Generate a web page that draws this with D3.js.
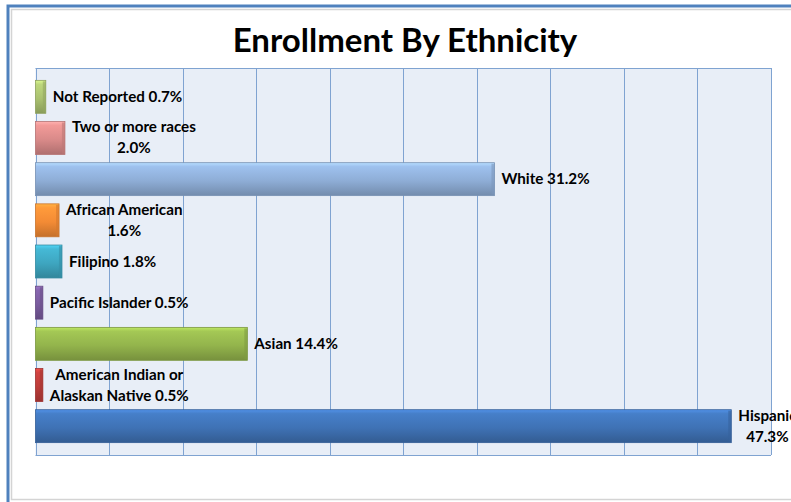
<!DOCTYPE html>
<html>
<head>
<meta charset="utf-8">
<title>Enrollment By Ethnicity</title>
<style>
  body { margin: 0; background: #fff; }
  text { font-family: Lato, "Open Sans", sans-serif; font-weight: bold; fill: #000; }
</style>
</head>
<body>
<svg id="chart" width="791" height="502"></svg>
<script src="https://cdn.jsdelivr.net/npm/d3@7"></script>
<script>
  // categories listed top to bottom as drawn
  var categories = ["Not Reported", "Two or more races", "White", "African American", "Filipino",
                    "Pacific Islander", "Asian", "American Indian or Alaskan Native", "Hispanic"];
  var values = [0.7, 2.0, 31.2, 1.6, 1.8, 0.5, 14.4, 0.5, 47.3];
  var labelLines = [
    ["Not Reported 0.7%"],
    ["Two or more races", "2.0%"],
    ["White 31.2%"],
    ["African American", "1.6%"],
    ["Filipino 1.8%"],
    ["Pacific Islander 0.5%"],
    ["Asian 14.4%"],
    ["American Indian or", "Alaskan Native 0.5%"],
    ["Hispanic", "47.3%"]
  ];
  var barColors = ["#aac16f", "#d98a89", "#8eadd6", "#f38b35", "#3ea6c0",
                   "#7a5c9e", "#93b44c", "#bd3d3a", "#3f72b5"];
  var xTicks = [0, 5, 10, 15, 20, 25, 30, 35, 40, 45, 50];

  var svg = d3.select("#chart");
  var plot = {left: 35.5, right: 771, top: 68, bottom: 455};

  // outer frame
  svg.append("rect").attr("x", 11.5).attr("y", 9.5).attr("width", 790).attr("height", 490)
    .attr("fill", "none").attr("stroke", "#d4d4d4").attr("stroke-width", 1.5);
  svg.append("path").attr("d", "M8,502 V6 H791")
    .attr("fill", "none").attr("stroke", "#4f81bd").attr("stroke-width", 3);

  // title
  svg.append("text").attr("x", 405).attr("y", 52).attr("text-anchor", "middle")
    .style("font-size", "33px").text("Enrollment By Ethnicity");

  var x = d3.scaleLinear().domain([0, 50]).range([plot.left, plot.right]);
  var y = d3.scaleBand().domain(categories).range([plot.top, plot.bottom])
    .paddingInner(0.2).paddingOuter(0.3);

  // plot background
  svg.append("rect").attr("x", plot.left).attr("y", plot.top)
    .attr("width", plot.right - plot.left).attr("height", plot.bottom - plot.top)
    .attr("fill", "#e8eef7");

  // gridlines
  svg.append("g").selectAll("line").data(xTicks).enter().append("line")
    .attr("x1", function(d) { return Math.round(x(d)) + 0.5; })
    .attr("x2", function(d) { return Math.round(x(d)) + 0.5; })
    .attr("y1", plot.top).attr("y2", plot.bottom)
    .attr("stroke", "#7fa3d1").attr("stroke-width", 1);
  svg.append("line").attr("x1", plot.left).attr("x2", plot.right)
    .attr("y1", plot.top + 0.5).attr("y2", plot.top + 0.5).attr("stroke", "#7fa3d1");
  svg.append("line").attr("x1", plot.left).attr("x2", plot.right)
    .attr("y1", plot.bottom + 0.5).attr("y2", plot.bottom + 0.5).attr("stroke", "#7fa3d1");

  // gradients for bevelled bars
  var defs = svg.append("defs");
  barColors.forEach(function(c, i) {
    var g = defs.append("linearGradient").attr("id", "grad" + i)
      .attr("x1", 0).attr("y1", 0).attr("x2", 0).attr("y2", 1);
    g.append("stop").attr("offset", "0%").attr("stop-color", d3.rgb(c).brighter(0.7));
    g.append("stop").attr("offset", "12%").attr("stop-color", d3.rgb(c).brighter(0.3));
    g.append("stop").attr("offset", "55%").attr("stop-color", c);
    g.append("stop").attr("offset", "100%").attr("stop-color", d3.rgb(c).darker(0.6));
  });

  // bars
  var bars = svg.append("g").selectAll("g").data(categories).enter().append("g");
  bars.append("rect")
    .attr("x", x(0))
    .attr("y", function(d) { return y(d); })
    .attr("width", function(d, i) { return x(values[i]) - x(0); })
    .attr("height", y.bandwidth())
    .attr("fill", function(d, i) { return "url(#grad" + i + ")"; })
    .attr("stroke", function(d, i) { return d3.rgb(barColors[i]).darker(0.5); })
    .attr("stroke-width", 0.8);
  // right bevel
  bars.append("rect")
    .attr("x", function(d, i) { return x(values[i]) - 3; })
    .attr("y", function(d) { return y(d) + 1; })
    .attr("width", function(d, i) { return Math.min(3, x(values[i]) - x(0)); })
    .attr("height", y.bandwidth() - 2)
    .attr("fill", function(d, i) { return d3.rgb(barColors[i]).darker(0.4); })
    .attr("opacity", 0.6);

  // labels
  var labels = svg.append("g").selectAll("g").data(categories).enter().append("g");
  labels.each(function(d, i) {
    var g = d3.select(this);
    var lines = labelLines[i];
    var cy = y(d) + y.bandwidth() / 2;
    var texts = lines.map(function(t, j) {
      return g.append("text").style("font-size", "15.2px")
        .attr("text-anchor", "middle")
        .attr("y", cy + 5 + (j - (lines.length - 1) / 2) * 21)
        .text(t);
    });
    var w = d3.max(texts, function(t) { return t.node().getComputedTextLength(); });
    var left = x(values[i]) + 7;
    texts.forEach(function(t) { t.attr("x", left + w / 2); });
  });
</script>
</body>
</html>
